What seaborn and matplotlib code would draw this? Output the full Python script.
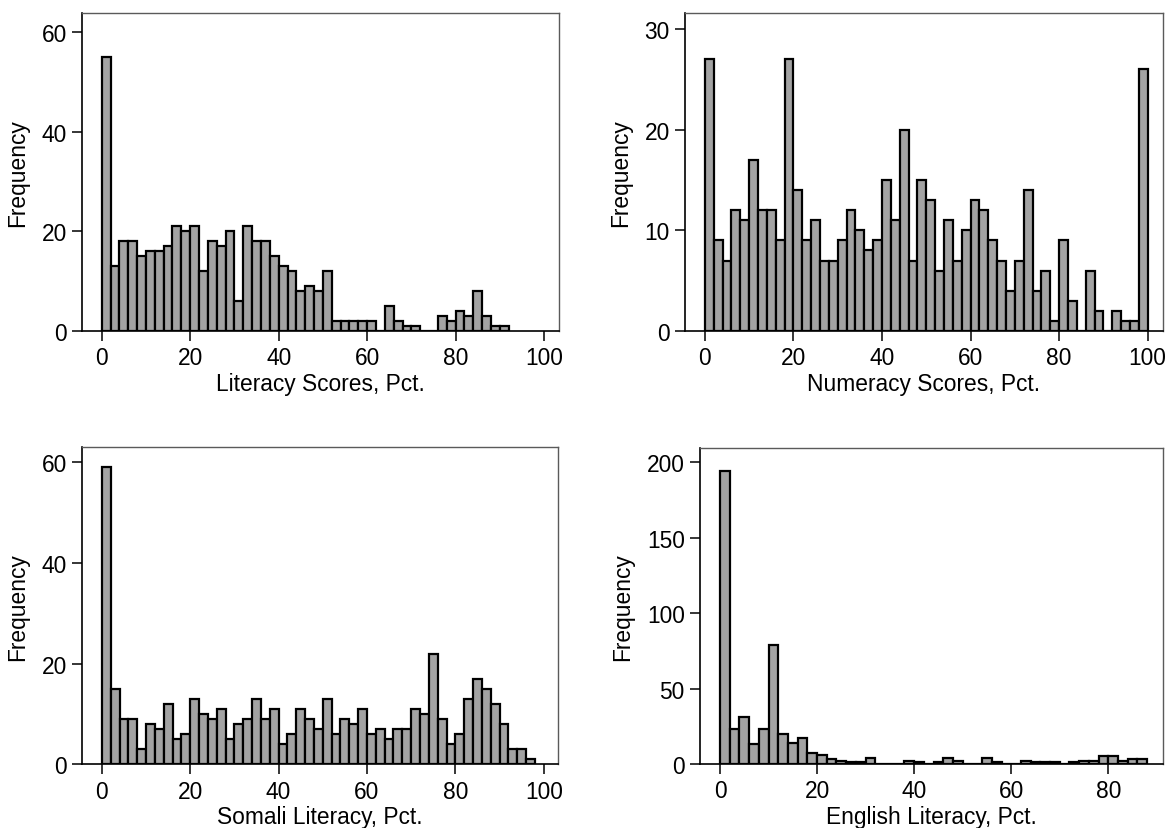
import numpy as np
import pandas as pd
import seaborn as sns
import matplotlib.pyplot as plt

sns.set_theme(style="ticks")
plt.rcParams['font.family'] = ['Liberation Sans', 'DejaVu Sans']

# Frequencies per 2-point bin, starting at 0
bin_width = 2
literacy_counts = [55, 13, 18, 18, 15, 16, 16, 17, 21, 20, 21, 12, 18, 17, 20, 6,
                   21, 18, 18, 15, 13, 12, 8, 9, 8, 12, 2, 2, 2, 2, 2, 0, 5, 2, 1, 1,
                   0, 0, 3, 2, 4, 3, 8, 3, 1, 1]
numeracy_counts = [27, 9, 7, 12, 11, 17, 12, 12, 9, 27, 14, 9, 11, 7, 7, 9, 12, 10,
                   8, 9, 15, 11, 20, 7, 15, 13, 6, 11, 7, 10, 13, 12, 9, 7, 4, 7, 14,
                   4, 6, 1, 9, 3, 0, 6, 2, 0, 2, 1, 1, 26]
somali_counts = [59, 15, 9, 9, 3, 8, 7, 12, 5, 6, 13, 10, 9, 11, 5, 8, 9, 13, 9, 11,
                 4, 6, 11, 9, 7, 13, 6, 9, 8, 11, 6, 7, 5, 7, 7, 11, 10, 22, 9, 4, 6,
                 13, 17, 15, 12, 8, 3, 3, 1]
english_counts = [194, 23, 31, 13, 23, 79, 20, 14, 17, 7, 6, 3, 2, 1, 1, 4, 0, 0, 0,
                  2, 1, 0, 1, 4, 2, 0, 0, 4, 1, 0, 0, 2, 1, 1, 1, 0, 1, 2, 2, 5, 5,
                  2, 3, 3]

x_titles = ["Literacy Scores, Pct.", "Numeracy Scores, Pct.",
            "Somali Literacy, Pct.", "English Literacy, Pct."]
x_ticks = [[0, 20, 40, 60, 80, 100], [0, 20, 40, 60, 80, 100],
           [0, 20, 40, 60, 80, 100], [0, 20, 40, 60, 80]]
y_ticks = [[0, 20, 40, 60], [0, 10, 20, 30], [0, 20, 40, 60], [0, 50, 100, 150, 200]]

W, H = 1169, 829
fig = plt.figure(figsize=(W / 100, H / 100), dpi=100)

# plot regions in pixel coordinates: left, right, top, bottom
boxes = [(82, 558.7, 14, 332), (685, 1162.7, 14, 332),
         (82, 558.3, 448.3, 765.3), (700, 1162.7, 449, 765)]
x_limits = [(-4.45, 103.3), (-4.5, 103.4), (-4.5, 103.3), (-4.12, 91.2)]
y_limits = [(0, 63.8), (0, 31.6), (0, 63.0), (0, 209.5)]

panels = [literacy_counts, numeracy_counts, somali_counts, english_counts]
fs = 16.4

for i, counts in enumerate(panels):
    l, r, t, b = boxes[i]
    ax = fig.add_axes([l / W, 1 - b / H, (r - l) / W, (b - t) / H])
    n_bins = len(counts)
    df = pd.DataFrame({
        "score": np.arange(n_bins) * bin_width + bin_width / 2,
        "count": counts,
    })
    sns.histplot(data=df, x="score", weights="count", binwidth=bin_width,
                 binrange=(0, n_bins * bin_width), ax=ax,
                 color="#a3a3a3", edgecolor="black", linewidth=1.6, alpha=1)
    ax.set_xlim(*x_limits[i])
    ax.set_ylim(*y_limits[i])
    ax.set_xticks(x_ticks[i])
    ax.set_yticks(y_ticks[i])
    ax.set_xlabel(x_titles[i], fontsize=fs, color="black", labelpad=2)
    ax.set_ylabel("Frequency", fontsize=fs, color="black", labelpad=9)
    ax.tick_params(axis="both", direction="out", length=7, width=1.1,
                   color="black", labelsize=fs, labelcolor="black", pad=4)
    for side in ("top", "right"):
        ax.spines[side].set_color("#5a5a5a")
        ax.spines[side].set_linewidth(1.0)
    for side in ("left", "bottom"):
        ax.spines[side].set_color("black")
        ax.spines[side].set_linewidth(1.2)

fig.savefig("out.png", dpi=100, facecolor="white")
